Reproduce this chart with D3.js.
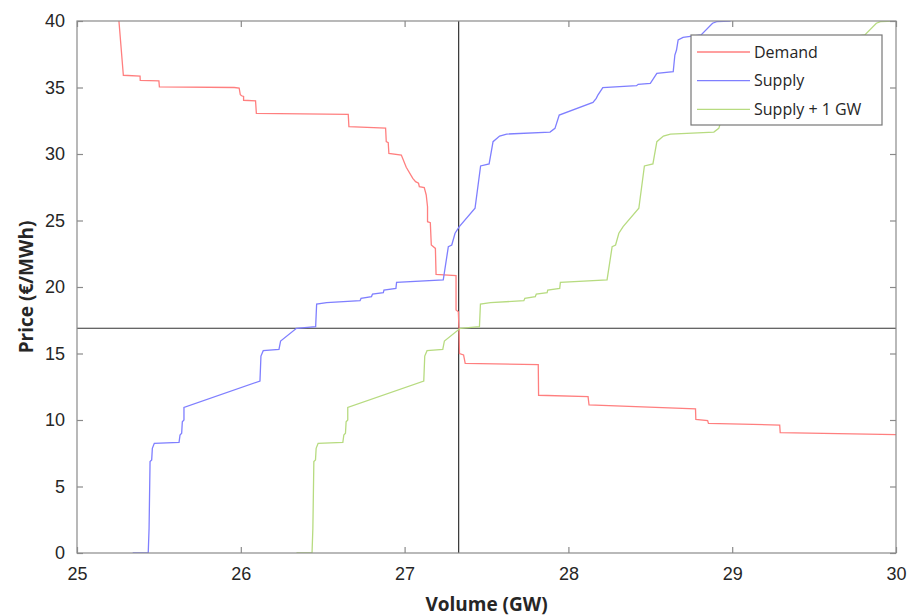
<!DOCTYPE html>
<html>
<head>
<meta charset="utf-8">
<script src="https://cdn.jsdelivr.net/npm/d3@7"></script>
<style>
  body { margin: 0; background: #fff; }
  svg { display: block; font-family: "Open Sans", "Liberation Sans", sans-serif; }
</style>
</head>
<body>
<svg id="chart"></svg>
<script>
// demand curve (volume GW, price €/MWh)
const demandVolume = [25.256, 25.283, 25.385, 25.386, 25.50, 25.503, 25.96, 25.99, 25.997, 26.005, 26.017, 26.017,
  26.09, 26.095, 26.656, 26.66, 26.884, 26.888, 26.90, 26.904, 26.98, 27.01, 27.05, 27.067, 27.085, 27.09, 27.12,
  27.132, 27.14, 27.14, 27.157, 27.163, 27.188, 27.192, 27.314, 27.314, 27.328, 27.332, 27.335, 27.36, 27.37,
  27.816, 27.818, 28.12, 28.126, 28.776, 28.778, 28.85, 28.855, 29.29, 29.293, 30.0];
const demandPrice = [40, 35.92, 35.86, 35.54, 35.50, 35.04, 35.0, 34.95, 34.46, 34.38, 34.33, 34.04,
  34.0, 33.06, 32.98, 32.05, 31.95, 30.93, 30.86, 30.05, 29.92, 29.0, 28.17, 27.92, 27.8, 27.54, 27.47,
  26.92, 26.04, 24.91, 24.84, 23.16, 22.9, 20.95, 20.85, 18.27, 18.14, 16.9, 15.0, 14.89, 14.26,
  14.16, 11.86, 11.76, 11.13, 10.83, 10.05, 9.95, 9.75, 9.62, 9.05, 8.9];

// supply curve
const supplyVolume = [25.34, 25.435, 25.44, 25.446, 25.456, 25.46, 25.472, 25.623, 25.629, 25.639, 25.643, 25.653,
  25.653, 26.117, 26.123, 26.137, 26.233, 26.243, 26.34, 26.457, 26.463, 26.524, 26.728, 26.734, 26.798, 26.804,
  26.87, 26.874, 26.947, 26.951, 27.236, 27.267, 27.288, 27.308, 27.334, 27.43, 27.464, 27.516, 27.54, 27.58,
  27.623, 27.888, 27.918, 27.944, 28.15, 28.17, 28.18, 28.21, 28.416, 28.426, 28.5, 28.54, 28.64, 28.65, 28.66,
  28.67, 28.70, 28.81, 28.88, 28.905, 28.99];
const supplyPrice = [0, 0.03, 1.86, 6.87, 7.0, 7.87, 8.25, 8.32, 8.87, 9.0, 9.87, 10.0,
  10.95, 12.93, 14.81, 15.21, 15.31, 15.94, 16.89, 17.02, 18.72, 18.82, 18.97, 19.14, 19.28, 19.47,
  19.57, 19.77, 19.9, 20.35, 20.53, 23.03, 23.16, 24.04, 24.54, 25.92, 29.1, 29.25, 30.93, 31.35,
  31.5, 31.65, 31.93, 32.93, 33.88, 34.18, 34.43, 34.99, 35.14, 35.24, 35.31, 36.06, 36.2, 37.44, 37.82,
  38.57, 38.77, 38.95, 39.83, 39.95, 40.0];

const shiftGW = 1; // "Supply + 1 GW"
const clearingVolume = 27.33;
const clearingPrice = 16.9;

const xTicks = [25, 26, 27, 28, 29, 30];
const yTicks = [0, 5, 10, 15, 20, 25, 30, 35, 40];
const seriesNames = ["Demand", "Supply", "Supply + 1 GW"];
const seriesColors = ["#ff7f7f", "#7f7fff", "#b7db80"];

const W = 911, H = 616;
const margin = { top: 21, right: 15, bottom: 63, left: 77 };
const width = W - margin.left - margin.right;
const height = H - margin.top - margin.bottom;

const svg = d3.select("#chart").attr("width", W).attr("height", H);

const x = d3.scaleLinear().domain([25, 30]).range([0, width]);
const y = d3.scaleLinear().domain([0, 40]).range([height, 0]);

const g = svg.append("g").attr("transform", `translate(${margin.left},${margin.top})`);

g.append("clipPath").attr("id", "clip")
  .append("rect").attr("width", width).attr("height", height);

const series = [
  demandVolume.map((v, i) => [v, demandPrice[i]]),
  supplyVolume.map((v, i) => [v, supplyPrice[i]]),
  supplyVolume.map((v, i) => [v + shiftGW, supplyPrice[i]])
];

const line = d3.line().x(d => x(d[0])).y(d => y(d[1]));

const plot = g.append("g").attr("clip-path", "url(#clip)");

// crosshair at market clearing point
plot.append("line")
  .attr("x1", x(clearingVolume)).attr("x2", x(clearingVolume))
  .attr("y1", 0).attr("y2", height)
  .attr("stroke", "#333").attr("stroke-width", 1.2);
plot.append("line")
  .attr("x1", 0).attr("x2", width)
  .attr("y1", y(clearingPrice)).attr("y2", y(clearingPrice))
  .attr("stroke", "#333").attr("stroke-width", 1.2);

series.forEach((s, i) => {
  plot.append("path")
    .datum(s)
    .attr("fill", "none")
    .attr("stroke", seriesColors[i])
    .attr("stroke-width", 1.3)
    .attr("d", line);
});

// axes (ticks inward, box on)
const axisColor = "#8a8a8a";
const styleAxis = sel => {
  sel.select(".domain").remove();
  sel.selectAll(".tick line").attr("stroke", axisColor).attr("stroke-width", 1.2);
  sel.selectAll("text").attr("fill", "#262626").style("font-size", "18px");
};

g.append("g").attr("transform", `translate(0,${height})`)
  .call(d3.axisBottom(x).tickValues(xTicks).tickFormat(d3.format("d")).tickSizeInner(-6).tickPadding(14))
  .call(styleAxis);
g.append("g")
  .call(d3.axisLeft(y).tickValues(yTicks).tickFormat(d3.format("d")).tickSizeInner(-6).tickPadding(12))
  .call(styleAxis);
g.append("g")
  .call(d3.axisTop(x).tickValues(xTicks).tickFormat("").tickSizeInner(-6))
  .call(styleAxis);
g.append("g").attr("transform", `translate(${width},0)`)
  .call(d3.axisRight(y).tickValues(yTicks).tickFormat("").tickSizeInner(-6))
  .call(styleAxis);

g.append("rect")
  .attr("width", width).attr("height", height)
  .attr("fill", "none").attr("stroke", axisColor).attr("stroke-width", 1.2);

// axis titles
svg.append("text")
  .attr("x", margin.left + width / 2).attr("y", 611)
  .attr("text-anchor", "middle")
  .attr("fill", "#262626")
  .style("font-size", "19px").style("font-weight", "bold")
  .text("Volume (GW)");
svg.append("text")
  .attr("transform", `translate(33,${margin.top + height / 2}) rotate(-90)`)
  .attr("text-anchor", "middle")
  .attr("fill", "#262626")
  .style("font-size", "19px").style("font-weight", "bold")
  .text("Price (€/MWh)");

// legend
const legend = g.append("g").attr("transform", `translate(${691 - margin.left},${35 - margin.top})`);
legend.append("rect")
  .attr("width", 191).attr("height", 90)
  .attr("fill", "#fff").attr("stroke", "#777").attr("stroke-width", 1.2);
seriesNames.forEach((name, i) => {
  const row = legend.append("g").attr("transform", `translate(0,${17 + i * 28.7})`);
  row.append("line")
    .attr("x1", 6).attr("x2", 59)
    .attr("stroke", seriesColors[i]).attr("stroke-width", 1.3);
  row.append("text")
    .attr("x", 63).attr("dy", "0.35em")
    .attr("fill", "#262626")
    .style("font-size", "16px")
    .text(name);
});
</script>
</body>
</html>
